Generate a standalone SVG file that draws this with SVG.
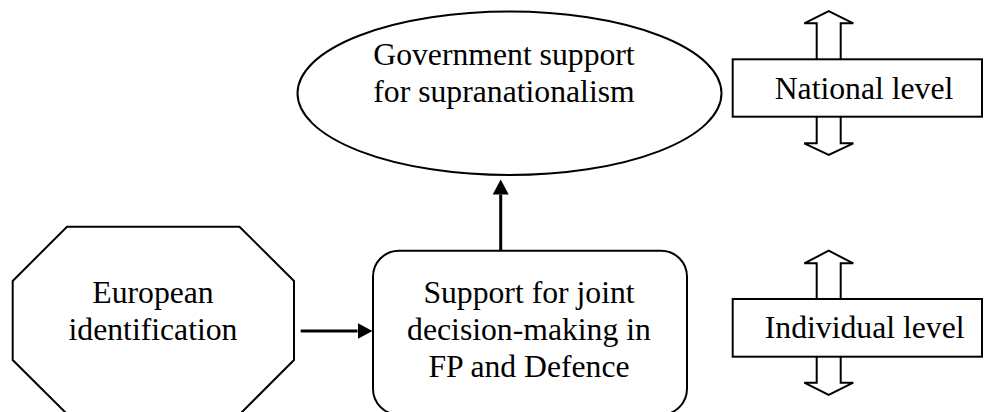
<svg xmlns="http://www.w3.org/2000/svg" width="984" height="412" viewBox="0 0 984 412">
<style>
  .shape { fill: #ffffff; stroke: #000000; stroke-width: 2; }
  .lbl { font-family: "Liberation Serif", "Times New Roman", serif; font-size: 31.7px; fill: #000000; text-anchor: middle; }
  .conn { stroke: #000000; stroke-width: 3; fill: none; }
</style>
<defs>
  <marker id="ah" markerUnits="userSpaceOnUse" markerWidth="16" markerHeight="16" refX="0" refY="8" orient="auto">
    <path d="M0,0 L15,8 L0,16 Z" fill="#000000"/>
  </marker>
</defs>
<rect width="984" height="412" fill="#ffffff"/>

<g id="european-identification">
  <polygon class="shape" points="67,226.7 239.5,226.7 294,281 294,360 240,414 67,414 12.7,360 12.7,281"/>
  <text class="lbl" x="153" y="303">European</text>
  <text class="lbl" x="153" y="340">identification</text>
</g>

<g id="joint-decision-making">
  <rect class="shape" x="373" y="250.7" width="314" height="164" rx="26" ry="26"/>
  <text class="lbl" x="529" y="303.3">Support for joint</text>
  <text class="lbl" x="529" y="340">decision-making in</text>
  <text class="lbl" x="529" y="376.7">FP and Defence</text>
</g>

<g id="government-support">
  <ellipse class="shape" cx="509.5" cy="93.3" rx="212" ry="81.7"/>
  <text class="lbl" x="504" y="65">Government support</text>
  <text class="lbl" x="504" y="101.7">for supranationalism</text>
</g>

<g id="national-level">
  <polygon class="shape" points="816.7,60 816.7,23.3 804.3,23.3 828.7,11 853.3,23.3 840.7,23.3 840.7,60"/>
  <polygon class="shape" points="816.7,116 816.7,143.3 804.3,143.3 828.7,155 853.3,143.3 840.7,143.3 840.7,116"/>
  <rect class="shape" x="732.7" y="59.3" width="249.3" height="57.4"/>
  <text class="lbl" x="864" y="99">National level</text>
</g>

<g id="individual-level">
  <polygon class="shape" points="816.7,300 816.7,263.3 804.3,263.3 828.7,250.7 853.3,263.3 840.7,263.3 840.7,300"/>
  <polygon class="shape" points="816.7,356 816.7,382.7 804.3,382.7 828.7,395 853.3,382.7 840.7,382.7 840.7,356"/>
  <rect class="shape" x="732.7" y="299" width="249.3" height="57.7"/>
  <text class="lbl" x="864.7" y="338.3">Individual level</text>
</g>

<g id="connectors">
  <line class="conn" x1="300.7" y1="331" x2="357.5" y2="331" marker-end="url(#ah)"/>
  <line class="conn" x1="500.7" y1="250.7" x2="500.7" y2="194.5" marker-end="url(#ah)"/>
</g>
</svg>
